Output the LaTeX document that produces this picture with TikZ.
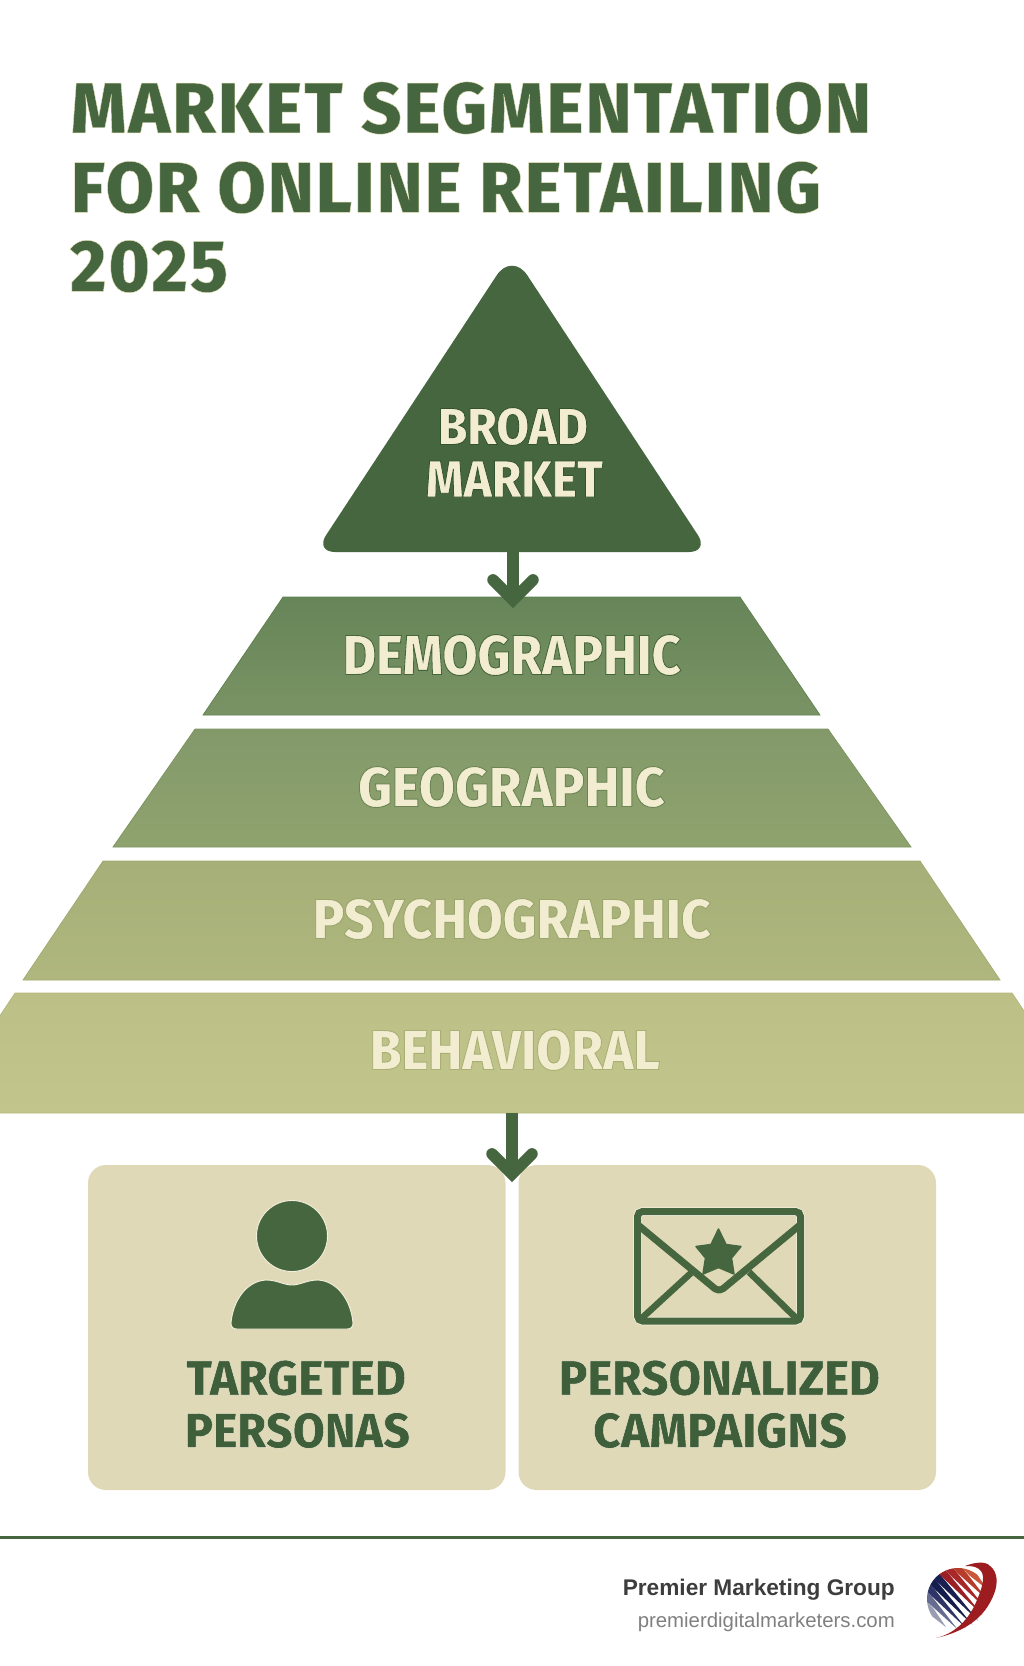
\documentclass[tikz,border=0pt]{standalone}
\usepackage{fontspec}
\usepackage{graphicx}
\usetikzlibrary{arrows.meta}
\setmainfont{Fira Sans}
\newfontfamily\titlefont[LetterSpace=3]{Fira Sans ExtraBold}
\newfontfamily\labelfont{Fira Sans ExtraBold}
\newfontfamily\footbold{Liberation Sans Bold}
\newfontfamily\footreg{Liberation Sans}
\definecolor{forest}{HTML}{45663F}
\definecolor{deepforest}{HTML}{3F5F3A}
\definecolor{sand}{HTML}{E0D9B7}
\definecolor{halo}{HTML}{F5F1DF}
\definecolor{cream}{HTML}{F2ECD0}
\definecolor{footdark}{HTML}{3D3D3D}
\definecolor{footgrey}{HTML}{808080}
\definecolor{logored}{HTML}{9C1C20}
\definecolor{demT}{HTML}{668558}
\definecolor{demB}{HTML}{7A9364}
\definecolor{demE}{HTML}{5F8050}
\definecolor{geoT}{HTML}{83996A}
\definecolor{geoB}{HTML}{8FA36E}
\definecolor{geoE}{HTML}{7C9460}
\definecolor{psyT}{HTML}{A5AF77}
\definecolor{psyB}{HTML}{AFB77E}
\definecolor{psyE}{HTML}{A0AB70}
\definecolor{behT}{HTML}{BCC086}
\definecolor{behB}{HTML}{C2C68C}
\definecolor{behE}{HTML}{B4B97C}
\definecolor{lgA}{HTML}{9A9DB2}
\definecolor{lgB}{HTML}{666C90}
\definecolor{lgC}{HTML}{2E3566}
\definecolor{lgD}{HTML}{151C4E}
\definecolor{lgE}{HTML}{1A1F52}
\definecolor{lgF}{HTML}{9B2026}
\definecolor{lgG}{HTML}{A8282A}
\definecolor{lgH}{HTML}{B83C2C}
\definecolor{lgI}{HTML}{C9583A}
% text with a thin outline: colour (r g b), width, text
\newcommand\outl[3]{\special{pdf:code #1 RG #2 w 2 Tr}#3\special{pdf:code 0 Tr 1 w}}
\newcommand\fitto[3]{\resizebox{#1pt}{#2pt}{#3}}
\newcommand\bigtitle{\titlefont\fontsize{72}{72}\selectfont}
\newcommand\biglabel{\labelfont\fontsize{48}{48}\selectfont}
\tikzset{
  x=1pt,y=-1pt,
  lbl/.style={inner sep=0pt,outer sep=0pt,anchor=center},
  conn/.style={draw=forest,line width=11.5pt,
    -{Straight Barb[length=20pt,width=40pt,line width=11.5pt,line cap=round,line join=miter]}},
  iconhalo/.style={fill=forest,draw=halo,line width=0.9pt},
  panel/.style={fill=sand,rounded corners=18pt},
}
\begin{document}
\begin{tikzpicture}
\useasboundingbox (0,0) rectangle (1024,1666);
\fill[white] (0,0) rectangle (1024,1666);
% title
\node[lbl,text=forest] (t1) at (471,108) {\fitto{800}{51}{\bigtitle\outl{0.9 0.88 0.7}{0.4}{MARKET SEGMENTATION}}};
\node[lbl,text=forest] (t2) at (446,187.5) {\fitto{750}{51}{\bigtitle\outl{0.9 0.88 0.7}{0.4}{FOR ONLINE RETAILING}}};
\node[lbl,text=forest] (t3) at (149,266.5) {\fitto{158}{51}{\bigtitle\outl{0.9 0.88 0.7}{0.4}{2025}}};
% triangle
\fill[forest,rounded corners=20pt] (512,552) -- (315,552) [rounded corners=28pt] -- (512,252) [rounded corners=20pt] -- (709,552) -- cycle;
\node[lbl,text=cream] (broad) at (513,426.5) {\fitto{150}{37}{\biglabel\outl{0.2 0.32 0.18}{0.8}{BROAD}}};
\node[lbl,text=cream] (market) at (514.5,479) {\fitto{177}{36}{\biglabel\outl{0.2 0.32 0.18}{0.8}{MARKET}}};
% bands
\shade[top color=demT,bottom color=demB,draw=demE,line width=0.7pt] (283,597) -- (740,597) -- (820,715) -- (203,715) -- cycle;
\shade[top color=geoT,bottom color=geoB,draw=geoE,line width=0.7pt] (195,729) -- (828,729) -- (911,847) -- (113,847) -- cycle;
\shade[top color=psyT,bottom color=psyB,draw=psyE,line width=0.7pt] (103,861) -- (920,861) -- (1000,980) -- (23,980) -- cycle;
\shade[top color=behT,bottom color=behB,draw=behE,line width=0.7pt] (15,993) -- (1012,993) -- (1092,1113) -- (-65,1113) -- cycle;
\node[lbl,text=cream] (demo) at (512,655) {\fitto{338}{40}{\biglabel\outl{0.27 0.4 0.22}{0.8}{DEMOGRAPHIC}}};
\node[lbl,text=cream] (geo) at (511.5,787) {\fitto{307}{40}{\biglabel\outl{0.42 0.52 0.33}{0.8}{GEOGRAPHIC}}};
\node[lbl,text=cream] (psy) at (512,919) {\fitto{398}{40}{\biglabel\outl{0.6 0.65 0.42}{0.8}{PSYCHOGRAPHIC}}};
\node[lbl,text=cream] (beh) at (515,1050) {\fitto{290}{40}{\biglabel\outl{0.66 0.69 0.45}{0.8}{BEHAVIORAL}}};
% panels
\fill[panel] (88,1165) rectangle (505.5,1490);
\fill[panel] (518.5,1165) rectangle (936,1490);
% connectors
\coordinate (triBase) at (513,550);
\coordinate (demoTip) at (513,608);
\coordinate (behBase) at (512,1113);
\coordinate (panelTip) at (512,1182);
\draw[conn] (triBase) -- (demoTip);
\draw[conn] (behBase) -- (panelTip);
% person
\draw[iconhalo] (292,1236) circle (35.5);
\draw[iconhalo] (237,1329) .. controls (233,1329) and (231,1327) .. (231,1323)
  .. controls (233,1300) and (247,1281) .. (266,1280)
  .. controls (277,1280) and (284,1285) .. (292,1285)
  .. controls (300,1285) and (307,1280) .. (318,1280)
  .. controls (337,1281) and (351,1300) .. (353,1323)
  .. controls (353,1327) and (351,1329) .. (347,1329) -- cycle;
\node[lbl,text=deepforest] (targeted) at (296,1378) {\fitto{220}{35}{\biglabel\outl{0.96 0.94 0.87}{0.4}{TARGETED}}};
\node[lbl,text=deepforest] (personas) at (297.5,1430.5) {\fitto{225}{35}{\biglabel\outl{0.96 0.94 0.87}{0.4}{PERSONAS}}};
% envelope
\draw[halo,line width=8.5pt,rounded corners=5pt] (637.5,1211.5) rectangle (800.5,1321);
\draw[forest,line width=7pt,rounded corners=5pt] (637.5,1211.5) rectangle (800.5,1321);
\draw[forest,line width=7pt,line join=round,rounded corners=5pt] (638,1225) -- (719,1292) -- (800,1225);
\draw[forest,line width=6.5pt] (642,1318) -- (691,1273);
\draw[forest,line width=6.5pt] (796,1318) -- (749,1272);
\fill[forest,draw=forest,line width=1.5pt,line join=round]
  (718.5,1229) -- (726,1244.5) -- (741,1246.5) -- (731.5,1258) -- (734,1274) -- (718.5,1267.5) -- (703,1274) -- (705.5,1258) -- (696,1246.5) -- (711,1244.5) -- cycle;
\node[lbl,text=deepforest] (personalized) at (719.5,1378) {\fitto{321}{35}{\biglabel\outl{0.96 0.94 0.87}{0.4}{PERSONALIZED}}};
\node[lbl,text=deepforest] (campaigns) at (720,1430.5) {\fitto{254}{35}{\biglabel\outl{0.96 0.94 0.87}{0.4}{CAMPAIGNS}}};
% footer
\fill[forest] (0,1535.5) rectangle (1024,1538.7);
\node[inner sep=0pt,anchor=base east,text=footdark] (brand) at (895,1595) {\resizebox{272pt}{!}{\footbold\fontsize{24}{24}\selectfont Premier Marketing Group}};
\node[inner sep=0pt,anchor=base east,text=footgrey] (site) at (895,1627) {\resizebox{257pt}{!}{\footreg\fontsize{22}{22}\selectfont premierdigitalmarketers.com}};
% logo globe
\begin{scope}
\clip (958,1599) circle (31);
\foreach \k/\col in {-4/lgA,-3/lgB,-2/lgC,-1/lgD,0/lgE,1/lgF,2/lgG,3/lgH,4/lgI}{
  \pgfmathsetmacro\p{\k*7}
  \pgfmathsetmacro\s{sqrt(max(961-\p*\p,40))}
  \pgfmathsetmacro\aone{-\s+4}
  \pgfmathsetmacro\atwo{\s*0.95}
  \fill[\col]
    ({958-50*0.68+(\p-3.5)*0.73},{1599-50*0.73-(\p-3.5)*0.68})
    -- ({958+\aone*0.68+(\p-3.5)*0.73},{1599+\aone*0.73-(\p-3.5)*0.68})
    -- ({958+\atwo*0.68+\p*0.73},{1599+\atwo*0.73-\p*0.68})
    -- ({958+\aone*0.68+(\p+3.5)*0.73},{1599+\aone*0.73-(\p+3.5)*0.68})
    -- ({958-50*0.68+(\p+3.5)*0.73},{1599-50*0.73-(\p+3.5)*0.68})
    -- cycle;
}
\end{scope}
% logo swoosh
\fill[logored] (965,1566) .. controls (975,1562) and (986,1561) .. (990,1566)
  .. controls (998,1572) and (998,1584) .. (994,1594)
  .. controls (987,1612) and (972,1630) .. (936,1638)
  .. controls (953,1634) and (968,1622) .. (977,1600)
  .. controls (983,1586) and (986,1574) .. (979,1569)
  .. controls (975,1566) and (970,1566) .. (965,1566) -- cycle;
\end{tikzpicture}
\end{document}
